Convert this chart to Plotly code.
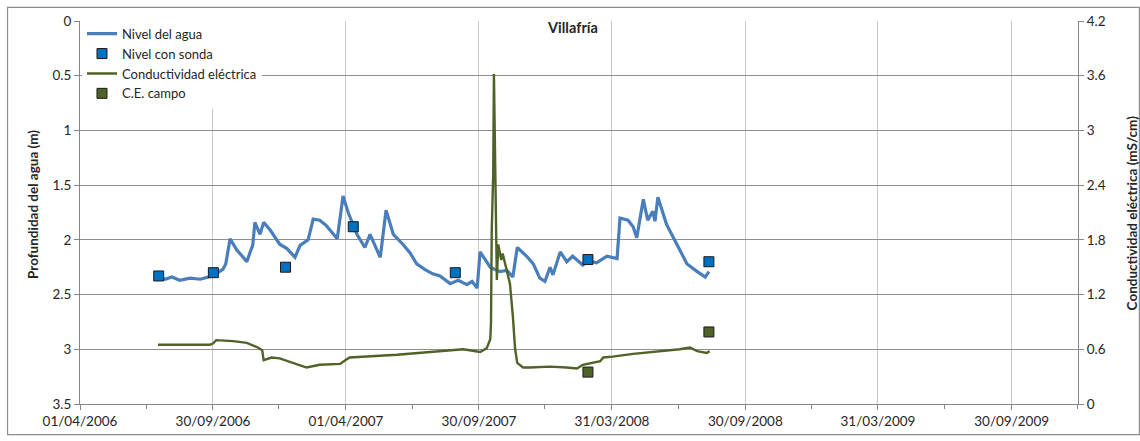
import plotly.graph_objects as go

# Water level recorded by the logger (depth below surface, m)
nivel_fechas = [
    "2006-07-16", "2006-07-27", "2006-08-05", "2006-08-16", "2006-08-30", "2006-09-13",
    "2006-09-24", "2006-09-30", "2006-10-07", "2006-10-14", "2006-10-18", "2006-10-24",
    "2006-11-02", "2006-11-09", "2006-11-16", "2006-11-20", "2006-11-24", "2006-11-27",
    "2006-12-04", "2006-12-09", "2006-12-18", "2006-12-31", "2007-01-10", "2007-01-21",
    "2007-01-28", "2007-02-08", "2007-02-15", "2007-02-24", "2007-03-05", "2007-03-10",
    "2007-03-20", "2007-03-28", "2007-04-04", "2007-04-16", "2007-04-23", "2007-04-27",
    "2007-05-04", "2007-05-11", "2007-05-18", "2007-05-26", "2007-06-05", "2007-06-18",
    "2007-06-28", "2007-07-07", "2007-07-18", "2007-07-29", "2007-08-08", "2007-08-22",
    "2007-09-02", "2007-09-14", "2007-09-21", "2007-09-28", "2007-10-02", "2007-10-09",
    "2007-10-16", "2007-10-22", "2007-10-29", "2007-11-08", "2007-11-16", "2007-11-22",
    "2007-12-05", "2007-12-14", "2007-12-23", "2007-12-30", "2008-01-06", "2008-01-10",
    "2008-01-20", "2008-01-29", "2008-02-06", "2008-02-20", "2008-02-27", "2008-03-10",
    "2008-03-24", "2008-03-31", "2008-04-07", "2008-04-11", "2008-04-22", "2008-04-29",
    "2008-05-04", "2008-05-13", "2008-05-19", "2008-05-26", "2008-05-29", "2008-06-02",
    "2008-06-14", "2008-06-28", "2008-07-12", "2008-07-26", "2008-08-06", "2008-08-11",
]
nivel_valores = [
    2.33, 2.36, 2.34, 2.37, 2.35, 2.36,
    2.34, 2.31, 2.30, 2.27, 2.22, 1.99,
    2.09, 2.14, 2.20, 2.12, 2.05, 1.84,
    1.95, 1.84, 1.91, 2.04, 2.08, 2.16,
    2.05, 2.00, 1.81, 1.82, 1.87, 1.91,
    1.99, 1.60, 1.75, 1.95, 2.03, 2.07,
    1.95, 2.05, 2.16, 1.73, 1.95, 2.04,
    2.12, 2.22, 2.27, 2.31, 2.33, 2.40,
    2.37, 2.41, 2.38, 2.44, 2.11, 2.18,
    2.25, 2.27, 2.29, 2.28, 2.34, 2.07,
    2.15, 2.22, 2.35, 2.38, 2.25, 2.32,
    2.11, 2.20, 2.15, 2.23, 2.19, 2.21,
    2.15, 2.16, 2.17, 1.80, 1.82, 1.88,
    1.98, 1.63, 1.82, 1.74, 1.83, 1.61,
    1.86, 2.04, 2.22, 2.29, 2.34, 2.29,
]

# Manual depth readings with the probe (m)
sonda_fechas = ["2006-07-18", "2006-10-01", "2007-01-08", "2007-04-11",
                "2007-08-29", "2008-02-27", "2008-08-11"]
sonda_valores = [2.33, 2.30, 2.25, 1.88, 2.30, 2.18, 2.20]

# Electrical conductivity recorded by the logger (mS/cm)
ce_fechas = [
    "2006-07-17", "2006-08-23", "2006-09-26", "2006-09-30", "2006-10-05", "2006-10-28",
    "2006-11-16", "2006-12-01", "2006-12-07", "2006-12-09", "2006-12-20", "2006-12-31",
    "2007-01-18", "2007-02-06", "2007-02-24", "2007-03-24", "2007-03-31", "2007-04-06",
    "2007-06-10", "2007-07-25", "2007-09-09", "2007-10-02", "2007-10-11", "2007-10-16",
    "2007-10-17", "2007-10-18", "2007-10-20", "2007-10-21", "2007-10-22", "2007-10-24",
    "2007-10-25", "2007-10-27", "2007-10-31", "2007-11-02", "2007-11-05", "2007-11-08",
    "2007-11-12", "2007-11-16", "2007-11-19", "2007-11-22", "2007-11-30", "2007-12-09",
    "2008-01-06", "2008-01-29", "2008-02-12", "2008-02-20", "2008-03-15", "2008-03-19",
    "2008-04-01", "2008-04-29", "2008-06-14", "2008-07-02", "2008-07-16", "2008-07-26",
    "2008-08-08", "2008-08-12",
]
ce_valores = [
    0.65, 0.65, 0.65, 0.66, 0.70, 0.69,
    0.67, 0.62, 0.59, 0.48, 0.51, 0.50,
    0.45, 0.40, 0.43, 0.44, 0.48, 0.51,
    0.54, 0.57, 0.60, 0.57, 0.61, 0.71,
    0.89, 1.90, 2.51, 3.62, 3.05, 1.97,
    1.36, 1.75, 1.58, 1.65, 1.55, 1.47,
    1.32, 0.96, 0.61, 0.45, 0.40, 0.40,
    0.41, 0.40, 0.39, 0.43, 0.47, 0.51,
    0.52, 0.55, 0.58, 0.60, 0.62, 0.58,
    0.56, 0.58,
]

# Field conductivity measurements (mS/cm)
campo_fechas = ["2008-02-27", "2008-08-11"]
campo_valores = [0.35, 0.79]

# Axis ticks
x_ticks = ["2006-04-01", "2006-09-30 12:00", "2007-04-01", "2007-09-30 12:00",
           "2008-03-31", "2008-09-30", "2009-03-31", "2009-09-30 12:00"]
x_labels = ["01/04/2006", "30/09/2006", "01/04/2007", "30/09/2007",
            "31/03/2008", "30/09/2008", "31/03/2009", "30/09/2009"]
x_minor = ["2006-07-01", "2006-12-30", "2007-07-01", "2007-12-30",
           "2008-06-30", "2008-12-30", "2009-06-30", "2009-12-30"]
x_range = ["2006-04-01", "2009-12-30 12:00"]

y_ticks = [0, 0.5, 1, 1.5, 2, 2.5, 3, 3.5]
y_labels = ["0", "0.5", "1", "1.5", "2", "2.5", "3", "3.5"]
y2_ticks = [0, 0.6, 1.2, 1.8, 2.4, 3.0, 3.6, 4.2]
y2_labels = ["0", "0.6", "1.2", "1.8", "2.4", "3", "3.6", "4.2"]

FONT = "Lato, 'Open Sans', sans-serif"
TXT = "#262626"
AXIS = "#868686"

fig = go.Figure()
fig.add_trace(go.Scatter(
    x=nivel_fechas, y=nivel_valores, name="Nivel del agua", mode="lines",
    line=dict(color="#4a7ebb", width=3.2), yaxis="y"))
fig.add_trace(go.Scatter(
    x=sonda_fechas, y=sonda_valores, name="Nivel con sonda", mode="markers",
    marker=dict(symbol="square", size=10, color="#0070c0",
                line=dict(color="#1a1a1a", width=1)), yaxis="y"))
fig.add_trace(go.Scatter(
    x=ce_fechas, y=ce_valores, name="Conductividad eléctrica", mode="lines",
    line=dict(color="#4f6228", width=2.4), yaxis="y2"))
fig.add_trace(go.Scatter(
    x=campo_fechas, y=campo_valores, name="C.E. campo", mode="markers",
    marker=dict(symbol="square", size=10, color="#4f6228",
                line=dict(color="#1a1a1a", width=1)), yaxis="y2"))

fig.update_layout(
    width=1140, height=441,
    margin=dict(l=80, r=62, t=21, b=32),
    paper_bgcolor="white", plot_bgcolor="white",
    font=dict(family=FONT, size=13, color=TXT),
    showlegend=True,
    legend=dict(x=0.002, y=1.006, xanchor="left", yanchor="top",
                bgcolor="white", borderwidth=0, font=dict(size=13, color=TXT),
                itemsizing="trace", tracegroupgap=0),
    xaxis=dict(
        type="date", range=x_range, tickmode="array", tickvals=x_ticks, ticktext=x_labels,
        showgrid=True, gridcolor="#c8c8c8", gridwidth=1,
        showline=True, linecolor=AXIS, linewidth=1,
        ticks="outside", ticklen=5, tickcolor=AXIS,
        minor=dict(tickmode="array", tickvals=x_minor, ticks="outside", ticklen=4,
                   tickcolor=AXIS, showgrid=False),
        zeroline=False, tickfont=dict(size=13.5, color=TXT),
    ),
    yaxis=dict(
        range=[3.5, 0], tickmode="array", tickvals=y_ticks, ticktext=y_labels,
        showgrid=True, gridcolor="#8f8f8f", gridwidth=1,
        showline=True, linecolor=AXIS, linewidth=1,
        ticks="outside", ticklen=5, tickcolor=AXIS,
        zeroline=False, tickfont=dict(size=13.5, color=TXT),
    ),
    yaxis2=dict(
        range=[0, 4.2], overlaying="y", side="right", anchor="x",
        tickmode="array", tickvals=y2_ticks, ticktext=y2_labels,
        showgrid=False, showline=True, linecolor=AXIS, linewidth=1,
        ticks="outside", ticklen=5, tickcolor=AXIS,
        zeroline=False, tickfont=dict(size=13.5, color=TXT),
    ),
    annotations=[
        dict(text="<b>Villafría</b>", xref="paper", yref="paper", x=0.493, y=0.982,
             xanchor="center", yanchor="middle", showarrow=False,
             font=dict(size=14.5, color=TXT)),
        dict(text="<b>Profundidad del agua (m)</b>", xref="paper", yref="paper",
             x=-0.047, y=0.52, textangle=-90, xanchor="center", yanchor="middle",
             showarrow=False, font=dict(size=13.5, color=TXT)),
        dict(text="<b>Conductividad eléctrica (mS/cm)</b>", xref="paper", yref="paper",
             x=1.054, y=0.5, textangle=-90, xanchor="center", yanchor="middle",
             showarrow=False, font=dict(size=13.5, color=TXT)),
    ],
    shapes=[
        # chart-area frame
        dict(type="rect", xref="paper", yref="paper",
             x0=-0.0726, y0=-0.08, x1=1.0615, y1=1.0355,
             line=dict(color="#8c8c8c", width=1.2), fillcolor="rgba(0,0,0,0)",
             layer="above"),
    ],
)

fig.write_html("out.html")
